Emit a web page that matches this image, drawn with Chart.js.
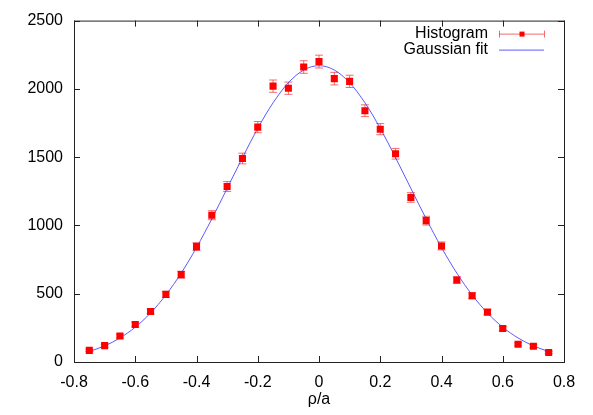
<!DOCTYPE html>
<html>
<head>
<meta charset="UTF-8">
<title>Histogram and Gaussian fit</title>
<script src="https://cdn.jsdelivr.net/npm/chart.js"></script>
<style>
  html, body { margin: 0; padding: 0; background: #fff; }
  #wrap { width: 593px; height: 415px; }
</style>
</head>
<body>
<div id="wrap"><canvas id="chart" width="593" height="415"></canvas></div>
<script>
// bin centres
const xs = [-0.75, -0.70, -0.65, -0.60, -0.55, -0.50, -0.45, -0.40, -0.35, -0.30, -0.25,
            -0.20, -0.15, -0.10, -0.05, 0.00, 0.05, 0.10, 0.15, 0.20, 0.25,
            0.30, 0.35, 0.40, 0.45, 0.50, 0.55, 0.60, 0.65, 0.70, 0.75];
// histogram counts
const counts = [85, 120, 190, 275, 370, 495, 640, 845, 1075, 1285, 1490,
                1720, 2020, 2005, 2160, 2200, 2075, 2055, 1840, 1705, 1525,
                1205, 1035, 850, 600, 485, 365, 245, 130, 115, 70];
// error bar half-heights
const errors = [9, 11, 14, 17, 19, 22, 25, 29, 33, 36, 39,
                41, 45, 45, 46, 47, 46, 45, 43, 41, 39,
                35, 32, 29, 24, 22, 19, 16, 11, 11, 8];
// fitted curve, read at the same x positions
const fitVals = [77, 118, 176, 255, 359, 491, 651, 838, 1048, 1271, 1496,
                 1711, 1898, 2045, 2138, 2170, 2138, 2045, 1898, 1711, 1496,
                 1271, 1048, 838, 651, 491, 359, 255, 176, 118, 77];

const xTicks = [-0.8, -0.6, -0.4, -0.2, 0, 0.2, 0.4, 0.6, 0.8];
const xTickLabels = ['-0.8', '-0.6', '-0.4', '-0.2', '0', '0.2', '0.4', '0.6', '0.8'];
const yTicks = [0, 500, 1000, 1500, 2000, 2500];
const yTickLabels = ['0', '500', '1000', '1500', '2000', '2500'];
const seriesNames = ['Histogram', 'Gaussian fit'];

const RED = '#ff0000';
const ERR = 'rgba(240, 60, 60, 0.75)';
const BLUE = 'rgba(50, 50, 255, 0.8)';
const FONT = '"Liberation Sans", Arial, sans-serif';

Chart.defaults.font.family = FONT;
Chart.defaults.font.size = 16;
Chart.defaults.color = '#000';

// error bars, drawn under the points
const errorBars = {
  id: 'errorBars',
  beforeDatasetsDraw(chart) {
    const { ctx, scales: { x, y } } = chart;
    ctx.save();
    ctx.strokeStyle = ERR;
    ctx.lineWidth = 1;
    for (let i = 0; i < xs.length; i++) {
      const px = x.getPixelForValue(xs[i]);
      const top = y.getPixelForValue(counts[i] + errors[i]);
      const bot = y.getPixelForValue(counts[i] - errors[i]);
      ctx.beginPath();
      ctx.moveTo(px, top); ctx.lineTo(px, bot);
      ctx.moveTo(px - 4, top); ctx.lineTo(px + 4, top);
      ctx.moveTo(px - 4, bot); ctx.lineTo(px + 4, bot);
      ctx.stroke();
    }
    ctx.restore();
  }
};

// gnuplot-like frame with inward ticks on all four sides, plus the key
const frame = {
  id: 'frame',
  afterDraw(chart) {
    const { ctx, chartArea: a, scales: { x, y } } = chart;
    ctx.save();
    ctx.strokeStyle = '#222';
    ctx.lineWidth = 1;
    ctx.strokeRect(a.left + 0.5, a.top + 0.5, a.right - a.left, a.bottom - a.top);
    ctx.beginPath();
    xTicks.forEach(v => {
      const px = Math.round(x.getPixelForValue(v)) + 0.5;
      ctx.moveTo(px, a.bottom); ctx.lineTo(px, a.bottom - 6);
      ctx.moveTo(px, a.top); ctx.lineTo(px, a.top + 6);
    });
    yTicks.forEach(v => {
      const py = Math.round(y.getPixelForValue(v)) + 0.5;
      ctx.moveTo(a.left, py); ctx.lineTo(a.left + 6, py);
      ctx.moveTo(a.right, py); ctx.lineTo(a.right - 6, py);
    });
    ctx.stroke();

    // key
    const textX = a.right - 76;
    const s0 = a.right - 65, s1 = a.right - 20;
    const rows = [a.top + 13, a.top + 29];
    ctx.font = '16px ' + FONT;
    ctx.fillStyle = '#000';
    ctx.textAlign = 'right';
    ctx.textBaseline = 'middle';
    ctx.fillText(seriesNames[0], textX, rows[0]);
    ctx.fillText(seriesNames[1], textX, rows[1]);

    ctx.strokeStyle = ERR;
    ctx.beginPath();
    ctx.moveTo(s0, rows[0] + 0.5); ctx.lineTo(s1, rows[0] + 0.5);
    ctx.moveTo(s0 + 0.5, rows[0] - 3); ctx.lineTo(s0 + 0.5, rows[0] + 4);
    ctx.moveTo(s1 + 0.5, rows[0] - 3); ctx.lineTo(s1 + 0.5, rows[0] + 4);
    ctx.stroke();
    ctx.fillStyle = RED;
    const mid = Math.round((s0 + s1) / 2);
    ctx.fillRect(mid - 2.5, rows[0] - 2, 5, 5);

    ctx.strokeStyle = BLUE;
    ctx.beginPath();
    ctx.moveTo(s0, rows[1] + 0.5); ctx.lineTo(s1, rows[1] + 0.5);
    ctx.stroke();
    ctx.restore();
  }
};

new Chart(document.getElementById('chart'), {
  type: 'scatter',
  data: {
    datasets: [
      {
        label: seriesNames[1],
        type: 'line',
        data: xs.map((v, i) => ({ x: v, y: fitVals[i] })),
        borderColor: BLUE,
        borderWidth: 1,
        pointRadius: 0,
        cubicInterpolationMode: 'monotone',
        fill: false,
        order: 2
      },
      {
        label: seriesNames[0],
        data: xs.map((v, i) => ({ x: v, y: counts[i] })),
        pointStyle: 'rect',
        pointRadius: 5,
        pointBackgroundColor: RED,
        pointBorderWidth: 0,
        showLine: false,
        order: 1
      }
    ]
  },
  options: {
    responsive: false,
    animation: false,
    layout: { padding: { left: 0, right: 29, top: 20, bottom: 0 } },
    plugins: { legend: { display: false }, tooltip: { enabled: false } },
    scales: {
      x: {
        type: 'linear',
        min: -0.8, max: 0.8,
        afterBuildTicks: s => { s.ticks = xTicks.map(v => ({ value: v })); },
        afterFit: s => { s.height = 53; },
        grid: { display: false, drawTicks: false },
        border: { display: false },
        ticks: { padding: 11, maxRotation: 0, callback: (v, i) => xTickLabels[i] },
        title: { display: true, text: 'ρ/a', padding: { top: 4, bottom: 6 } }
      },
      y: {
        type: 'linear',
        min: 0, max: 2500,
        afterBuildTicks: s => { s.ticks = yTicks.map(v => ({ value: v })); },
        afterFit: s => { s.width = 74; },
        grid: { display: false, drawTicks: false },
        border: { display: false },
        ticks: { padding: 11, callback: (v, i) => yTickLabels[i] }
      }
    }
  },
  plugins: [errorBars, frame]
});
</script>
</body>
</html>
